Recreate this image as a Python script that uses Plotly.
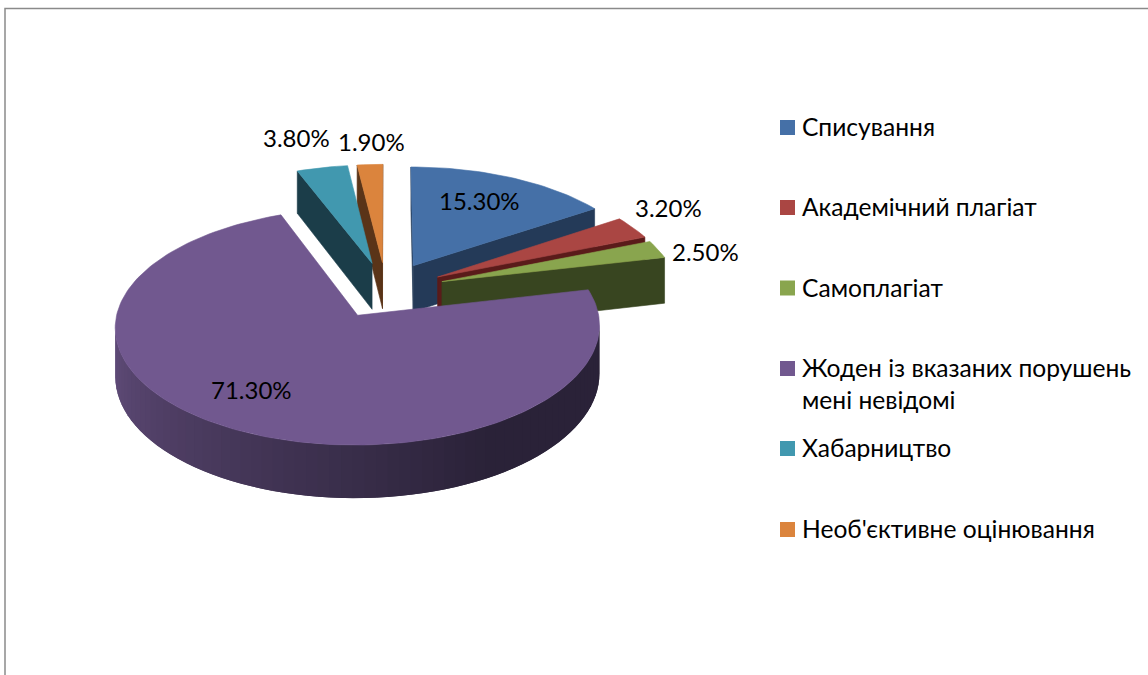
import math
import plotly.graph_objects as go

# ---- data ----
categories = ["Списування", "Академічний плагіат", "Самоплагіат",
              "Жоден із вказаних порушень<br>мені невідомі", "Хабарництво",
              "Необ'єктивне оцінювання"]
values = [15.3, 3.2, 2.5, 71.3, 3.8, 1.9]

# ---- styles ----
top_colors = ["#4570A7", "#AA4643", "#89A54E", "#71588F", "#4198AF", "#DB843D"]
side_colors = ["#243A58", "#5A1B1A", "#384520", "#2A2238", "#1B3D49", "#5A3418"]
FONT = "Lato, Carlito, 'Noto Sans', sans-serif"
LABEL_SIZE = 24
LEGEND_SIZE = 24.6

# ---- projection of the exploded 3-D pie onto the pixel-scaled axes ----
OX, OY, A, B, K, H = 386.0, 290.0, 236.0, 112.4, 0.0944, 47.0
PULL = 0.25


def project(X, Y, z=0.0):
    w = 1 + K * Y
    return OX + A * X / w, OY + (-B * Y + H * z) / w


def lerp_hex(c1, c2, t):
    a = [int(c1[i:i + 2], 16) for i in (1, 3, 5)]
    b = [int(c2[i:i + 2], 16) for i in (1, 3, 5)]
    return "#" + "".join(f"{round(p + (q - p) * t):02x}" for p, q in zip(a, b))


def wall_shade(base, phi):
    """Rim shading of the large slice: bright at the left, dark at the front right."""
    if base != "#2A2238":
        return base
    d = phi % 360
    if d <= 150:
        return "#2A2238"
    if d >= 275:
        return "#665080"
    return lerp_hex("#2A2238", "#665080", (d - 150) / 125)


fig = go.Figure()


def poly(pts, color, edge=0.6):
    xs = [p[0] for p in pts] + [pts[0][0]]
    ys = [p[1] for p in pts] + [pts[0][1]]
    fig.add_trace(go.Scatter(x=xs, y=ys, mode="lines", fill="toself", fillcolor=color,
                             line=dict(color=color, width=edge), hoverinfo="skip",
                             showlegend=False))


total = sum(values)
slices = []
acc = 0.0
for i, v in enumerate(values):
    a0 = acc / total * 360
    acc += v
    a1 = acc / total * 360
    slices.append((i, a0, a1))

CAM_Y = -1 / K


def mid_cos(s):
    return math.cos(math.radians((s[1] + s[2]) / 2))


for i, a0, a1 in sorted(slices, key=mid_cos, reverse=True):
    mid = math.radians((a0 + a1) / 2)
    cx, cy = PULL * math.sin(mid), PULL * math.cos(mid)
    top, side = top_colors[i], side_colors[i]

    def rim(deg):
        r = math.radians(deg)
        return cx + math.sin(r), cy + math.cos(r)

    # straight cut faces, only when they face the viewer
    for deg, sgn in ((a0, 1), (a1, -1)):
        r = math.radians(deg)
        nx, ny = -sgn * math.cos(r), sgn * math.sin(r)
        if (0 - cx) * nx + (CAM_Y - cy) * ny > 0:
            ex, ey = rim(deg)
            poly([project(cx, cy), project(ex, ey), project(ex, ey, 1), project(cx, cy, 1)], side)

    # outer rim: each band reaches under the next one, so no seams show
    n = max(2, int((a1 - a0) / 2.5))
    step = (a1 - a0) / n
    for j in range(n):
        p0 = a0 + step * j
        p1 = min(a1, p0 + step * 2)
        pc = p0 + step / 2
        pm = math.radians(pc)
        ex, ey = rim(pc)
        if (0 - ex) * math.sin(pm) + (CAM_Y - ey) * math.cos(pm) > 0:
            arc = [p0 + (p1 - p0) * t / 4 for t in range(5)]
            upper = [project(*rim(d)) for d in arc]
            lower = [project(*rim(d), 1) for d in reversed(arc)]
            poly(upper + lower, wall_shade(side, pc), edge=0)

    # top face
    n = max(4, int((a1 - a0) / 1.5))
    pts = [project(cx, cy)] + [project(*rim(a0 + (a1 - a0) * j / n)) for j in range(n + 1)]
    poly(pts, top)

# ---- percentage labels ----
label_xy = [(479, 200), (668, 207), (705, 251), (251, 389), (296, 137), (371, 141)]
for v, (x, y) in zip(values, label_xy):
    fig.add_annotation(x=x, y=y, text=f"{v:.2f}%", showarrow=False, xanchor="center",
                       yanchor="middle", font=dict(family=FONT, size=LABEL_SIZE, color="#000000"))

# ---- legend ----
legend_y = [127.5, 207.5, 288, 368.5, 448.5, 529.5]
fig.add_trace(go.Scatter(x=[787.5] * len(legend_y), y=legend_y, mode="markers",
                         marker=dict(symbol="square", size=15, color=top_colors, line=dict(width=0)),
                         hoverinfo="skip", showlegend=False))
for cat, y in zip(categories, legend_y):
    wrapped = "<br>" in cat
    fig.add_annotation(x=800, y=(y - 1) if not wrapped else y - 18, text=cat, showarrow=False,
                       xanchor="left", yanchor="top" if wrapped else "middle", align="left",
                       font=dict(family=FONT, size=LEGEND_SIZE, color="#000000"))

fig.update_layout(
    width=1148, height=675, margin=dict(l=0, r=0, t=0, b=0),
    paper_bgcolor="#FFFFFF", plot_bgcolor="#FFFFFF", showlegend=False,
    xaxis=dict(range=[0, 1148], visible=False, fixedrange=True),
    yaxis=dict(range=[675, 0], visible=False, fixedrange=True),
    shapes=[dict(type="rect", x0=5, y0=8.5, x1=1170, y1=700,
                 line=dict(color="#8A8A8A", width=1.5), fillcolor="rgba(0,0,0,0)", layer="below")],
)
fig.write_html("out.html", config=dict(displayModeBar=False),
               post_script="document.body.style.margin='0';document.body.style.overflow='hidden';")
